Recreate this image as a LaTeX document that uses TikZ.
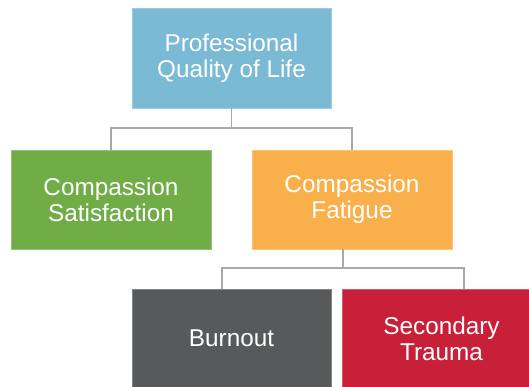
\documentclass[tikz,border=0pt]{standalone}
\usepackage{fontspec}
\setmainfont{Liberation Sans}
\usetikzlibrary{calc}
\definecolor{cblue}{RGB}{122,186,212}
\definecolor{cgreen}{RGB}{112,173,71}
\definecolor{corange}{RGB}{250,176,74}
\definecolor{cgrey}{RGB}{88,89,91}
\definecolor{cred}{RGB}{200,32,56}
\definecolor{cline}{RGB}{168,168,168}
\tikzset{
  box/.style={rectangle, fill=#1, draw=#1!75!white, line width=0.6pt, minimum width=199pt, minimum height=99pt,
    inner sep=0pt, outer sep=0pt, align=center, text=white,
    font=\fontsize{24.3}{26}\selectfont},
  conn/.style={draw=cline, line width=1.1pt}
}
\begin{document}
\begin{tikzpicture}[x=1pt,y=-1pt]
\useasboundingbox (0,0) rectangle (529,387);
\clip (0,0) rectangle (529,387);
\fill[white] (0,0) rectangle (529,387);
\node[box=cblue, minimum height=100pt] (top) at (231.5,58) {Professional\\Quality of Life};
\node[box=cgreen, minimum width=200pt] (sat) at (111,199.5) {Compassion\\Satisfaction};
\node[box=corange, minimum width=200pt] (fat) at (352,199.5) {Compassion\\Fatigue};
\node[box=cgrey] (burn) at (231.5,338.5) {Burnout};
\node[box=cred] (trauma) at (441.5,338.5) {Secondary\\Trauma};
\draw[conn] (top.south) -- ++(0,20) coordinate (j1) -| (sat.north);
\draw[conn] (j1) -| (fat.north);
\draw[conn] ([xshift=-9pt]fat.south) -- ++(0,19) coordinate (j2) -| ([xshift=-9.5pt]burn.north);
\draw[conn] (j2) -| ([xshift=22.5pt]trauma.north);
\end{tikzpicture}
\end{document}
